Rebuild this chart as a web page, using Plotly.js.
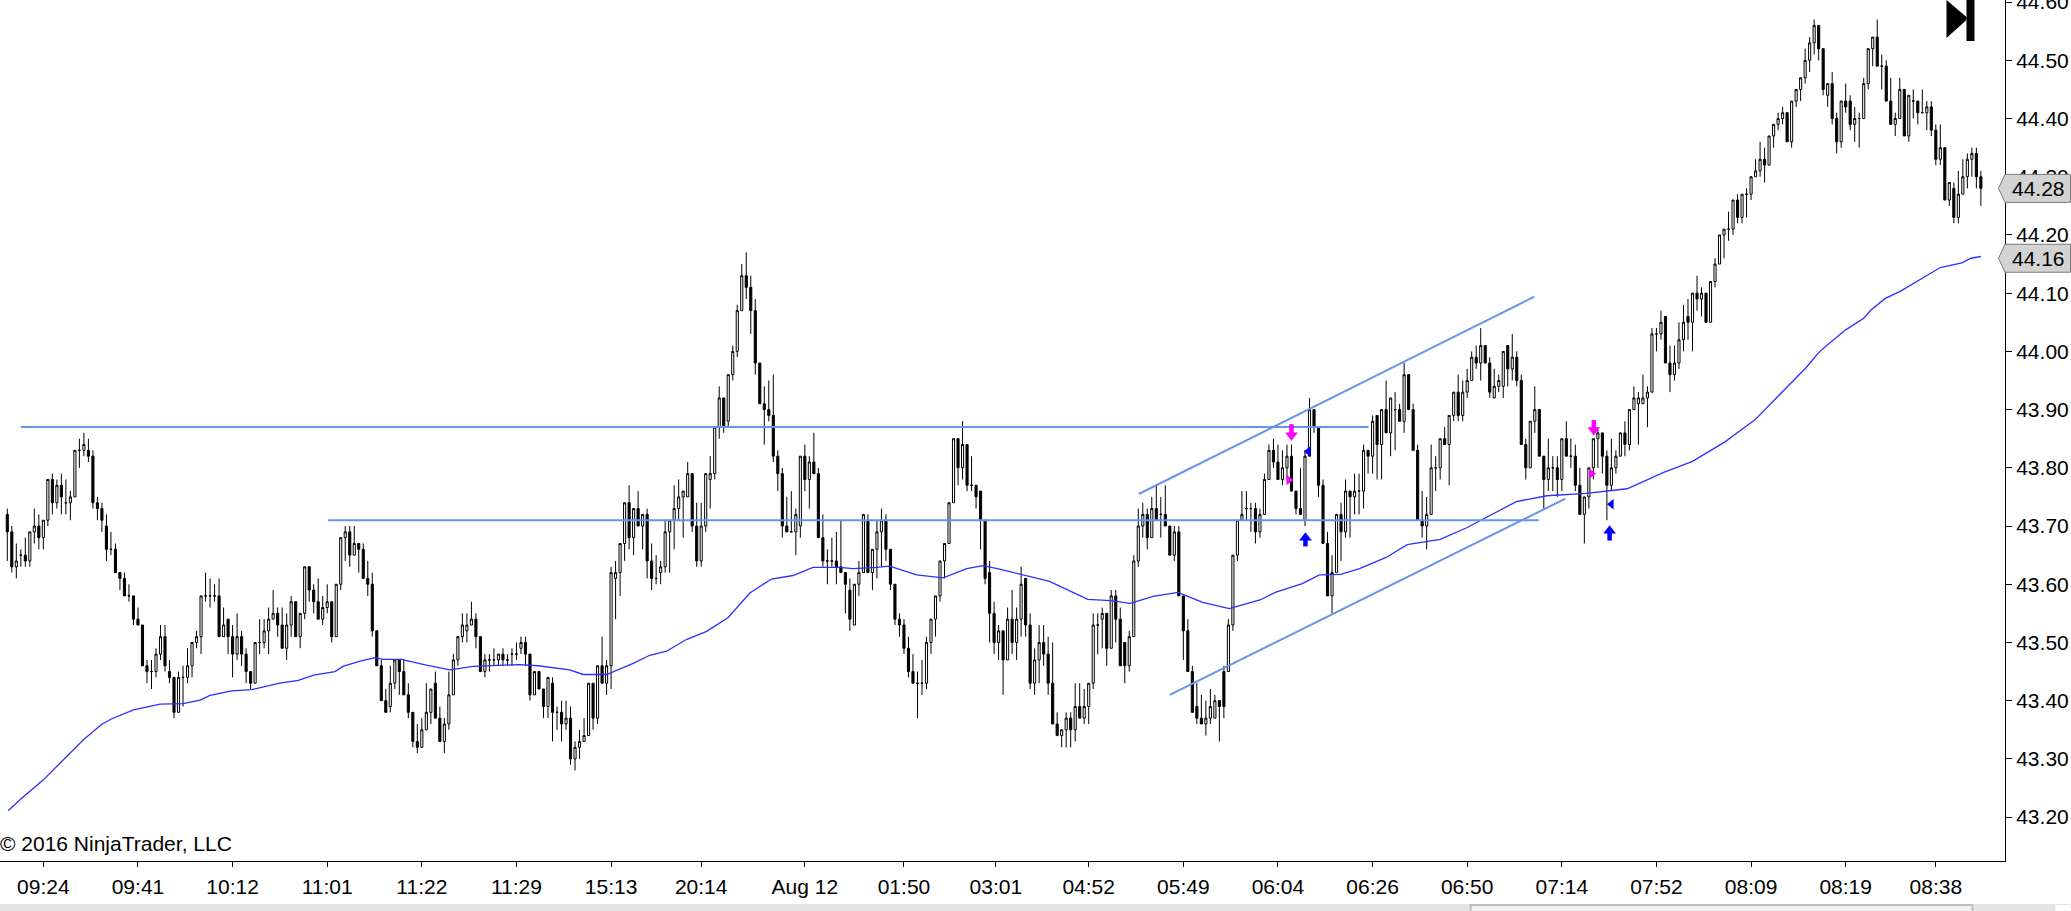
<!DOCTYPE html>
<html>
<head>
<meta charset="utf-8">
<script src="https://cdn.plot.ly/plotly-3.0.1.min.js"></script>
<style>html,body{margin:0;padding:0;background:#fff;overflow:hidden}#chart{width:2071px;height:911px}</style>
</head>
<body>
<div id="chart"></div>
<script>
const openPrices = [
43.72,43.69,43.63,43.65,43.65,43.64,43.69,43.70,43.68,43.71,
43.78,43.74,43.77,43.74,43.74,43.75,43.83,43.83,43.83,43.82,
43.74,43.73,43.70,43.66,43.66,43.62,43.61,43.58,43.58,43.54,
43.53,43.46,43.45,43.45,43.48,43.51,43.45,43.44,43.38,43.44,
43.44,43.46,43.50,43.51,43.58,43.58,43.58,43.58,43.51,43.54,
43.51,43.48,43.51,43.48,43.45,43.43,43.50,43.50,43.52,43.54,
43.55,43.53,43.49,43.53,43.57,43.51,43.55,43.63,43.59,43.57,
43.54,43.56,43.57,43.51,43.60,43.68,43.69,43.65,43.67,43.66,
43.61,43.60,43.52,43.46,43.40,43.39,43.43,43.47,43.45,43.41,
43.38,43.33,43.32,43.35,43.38,43.43,43.37,43.33,43.36,43.41,
43.47,43.51,43.52,43.53,43.54,43.51,43.45,43.47,43.47,43.47,
43.48,43.47,43.48,43.48,43.49,43.50,43.48,43.41,43.45,43.42,
43.39,43.43,43.38,43.38,43.36,43.37,43.30,43.32,43.33,43.34,
43.43,43.37,43.46,43.43,43.46,43.61,43.62,43.67,43.74,43.68,
43.73,43.70,43.72,43.64,43.61,43.62,43.63,43.69,43.71,43.73,
43.75,43.75,43.79,43.70,43.64,43.70,43.78,43.79,43.87,43.92,
43.88,43.96,44.00,44.07,44.13,44.11,44.07,43.98,43.91,43.90,
43.89,43.82,43.79,43.70,43.69,43.69,43.70,43.82,43.78,43.81,
43.79,43.68,43.64,43.64,43.64,43.63,43.62,43.59,43.53,43.60,
43.62,43.71,43.62,43.66,43.69,43.71,43.66,43.60,43.54,43.53,
43.49,43.45,43.43,43.43,43.43,43.50,43.54,43.58,43.64,43.67,
43.74,43.85,43.80,43.84,43.77,43.77,43.76,43.71,43.62,43.55,
43.50,43.52,43.47,43.54,43.50,43.54,43.61,43.53,43.43,43.47,
43.50,43.48,43.43,43.36,43.34,43.35,43.37,43.35,43.39,43.37,
43.39,43.43,43.53,43.54,43.55,43.49,43.58,43.54,43.50,43.46,
43.51,43.64,43.70,43.72,43.68,43.73,43.72,43.72,43.70,43.65,
43.69,43.58,43.52,43.45,43.39,43.37,43.36,43.37,43.37,43.40,
43.45,43.45,43.53,43.65,43.71,43.73,43.73,43.73,43.69,43.72,
43.78,43.83,43.81,43.78,43.80,43.82,43.76,43.73,43.71,43.82,
43.90,43.87,43.77,43.67,43.58,43.62,43.72,43.69,43.76,43.75,
43.76,43.76,43.83,43.82,43.89,43.84,43.90,43.86,43.90,43.90,
43.88,43.96,43.90,43.83,43.71,43.70,43.72,43.80,43.80,43.85,
43.84,43.89,43.93,43.89,43.93,43.95,43.99,43.98,44.01,43.98,
43.92,43.94,43.94,44.01,43.97,43.99,43.95,43.84,43.80,43.88,
43.90,43.82,43.78,43.80,43.80,43.78,43.85,43.82,43.82,43.77,
43.72,43.75,43.80,43.85,43.86,43.82,43.77,43.80,43.82,43.86,
43.84,43.90,43.91,43.91,43.92,43.93,44.03,44.03,44.06,43.98,
43.96,43.98,44.02,44.06,44.05,44.10,44.09,44.10,44.05,44.12,
44.15,44.20,44.21,44.21,44.26,44.23,44.27,44.27,44.30,44.31,
44.33,44.32,44.37,44.39,44.40,44.41,44.36,44.43,44.45,44.47,
44.50,44.53,44.56,44.52,44.44,44.46,44.40,44.36,44.43,44.43,
44.39,44.40,44.40,44.46,44.52,44.54,44.49,44.49,44.43,44.39,
44.40,44.45,44.37,44.43,44.43,44.41,44.41,44.42,44.38,44.33,
44.35,44.26,44.28,44.23,44.27,44.30,44.33,44.34,44.30];
const highPrices = [
43.73,43.70,43.67,43.66,43.68,43.69,43.73,43.72,43.71,43.78,
43.79,43.78,43.79,43.78,43.76,43.83,43.85,43.86,43.85,43.83,
43.75,43.74,43.72,43.69,43.67,43.62,43.62,43.60,43.58,43.56,
43.53,43.47,43.47,43.49,43.53,43.53,43.47,43.44,43.45,43.46,
43.49,43.50,43.52,43.58,43.62,43.61,43.60,43.61,43.56,43.54,
43.53,43.55,43.52,43.49,43.45,43.50,43.54,43.54,43.56,43.59,
43.56,43.56,43.55,43.58,43.57,43.55,43.63,43.63,43.60,43.61,
43.58,43.60,43.57,43.60,43.68,43.70,43.70,43.70,43.67,43.67,
43.64,43.62,43.52,43.47,43.42,43.46,43.47,43.47,43.47,43.43,
43.38,43.36,43.37,43.43,43.42,43.45,43.39,43.37,43.45,43.48,
43.51,43.55,43.55,43.57,43.55,43.51,43.48,43.48,43.49,43.48,
43.49,43.48,43.49,43.50,43.51,43.51,43.48,43.45,43.45,43.42,
43.44,43.44,43.39,43.40,43.40,43.39,43.33,43.35,43.37,43.43,
43.43,43.46,43.51,43.47,43.63,43.64,43.67,43.74,43.77,43.73,
43.76,43.72,43.73,43.67,43.65,43.64,43.71,43.71,43.77,43.78,
43.76,43.81,43.79,43.74,43.74,43.79,43.82,43.87,43.94,43.92,
43.96,44.01,44.08,44.15,44.17,44.13,44.09,43.98,43.94,43.95,
43.96,43.83,43.80,43.75,43.76,43.73,43.82,43.84,43.82,43.86,
43.80,43.72,43.66,43.68,43.69,43.71,43.62,43.61,43.60,43.64,
43.72,43.72,43.66,43.71,43.73,43.72,43.66,43.60,43.55,43.54,
43.51,43.48,43.45,43.47,43.51,43.54,43.58,43.64,43.67,43.74,
43.85,43.85,43.88,43.84,43.82,43.77,43.76,43.71,43.64,43.57,
43.53,43.52,43.56,43.59,43.56,43.63,43.61,43.55,43.49,43.53,
43.53,43.51,43.50,43.38,43.35,43.38,43.38,43.43,43.43,43.42,
43.43,43.55,43.55,43.56,43.55,43.59,43.59,43.56,43.50,43.52,
43.65,43.73,43.74,43.73,43.75,43.77,43.75,43.77,43.70,43.70,
43.70,43.58,43.54,43.46,43.43,43.41,43.40,43.42,43.41,43.40,
43.46,43.54,43.65,43.71,43.76,43.76,43.74,43.74,43.73,43.79,
43.84,43.85,43.84,43.83,43.84,43.84,43.76,43.80,43.83,43.92,
43.90,43.87,43.78,43.69,43.65,43.72,43.74,43.78,43.76,43.79,
43.79,43.84,43.83,43.89,43.89,43.90,43.95,43.92,43.93,43.91,
43.98,43.96,43.91,43.84,43.76,43.75,43.84,43.82,43.85,43.87,
43.89,43.93,43.96,43.95,43.97,44.00,44.01,44.04,44.01,43.99,
43.97,43.96,44.00,44.01,44.03,44.00,43.96,43.85,43.88,43.94,
43.90,43.82,43.85,43.82,43.82,43.85,43.88,43.85,43.84,43.80,
43.75,43.80,43.85,43.87,43.86,43.83,43.85,43.83,43.86,43.88,
43.90,43.94,43.93,43.96,43.94,44.04,44.04,44.07,44.06,44.01,
44.01,44.05,44.08,44.09,44.10,44.13,44.11,44.10,44.12,44.16,
44.20,44.21,44.24,44.26,44.27,44.27,44.28,44.30,44.33,44.36,
44.35,44.37,44.39,44.41,44.42,44.41,44.43,44.45,44.47,44.52,
44.54,44.57,44.56,44.52,44.46,44.48,44.41,44.43,44.46,44.44,
44.42,44.41,44.47,44.52,44.54,44.57,44.51,44.50,44.47,44.41,
44.47,44.45,44.44,44.45,44.43,44.45,44.43,44.43,44.39,44.39,
44.35,44.29,44.29,44.31,44.33,44.34,44.35,44.35,44.31];
const lowPrices = [
43.64,43.62,43.61,43.63,43.63,43.63,43.67,43.66,43.66,43.70,
43.72,43.73,43.72,43.72,43.71,43.75,43.80,43.82,43.81,43.73,
43.71,43.69,43.64,43.65,43.62,43.59,43.58,43.57,43.53,43.53,
43.46,43.43,43.42,43.44,43.47,43.45,43.43,43.37,43.38,43.39,
43.43,43.44,43.49,43.48,43.57,43.56,43.57,43.51,43.51,43.48,
43.44,43.47,43.46,43.43,43.42,43.43,43.48,43.49,43.48,43.54,
43.51,43.49,43.47,43.51,43.51,43.49,43.54,43.57,43.55,43.54,
43.53,43.55,43.50,43.51,43.59,43.64,43.63,43.65,43.62,43.61,
43.58,43.51,43.46,43.40,43.38,43.38,43.42,43.41,43.41,43.37,
43.32,43.31,43.32,43.35,43.36,43.37,43.33,43.31,43.35,43.41,
43.46,43.50,43.50,43.53,43.49,43.45,43.44,43.45,43.46,43.46,
43.46,43.46,43.46,43.47,43.48,43.46,43.40,43.41,43.42,43.37,
43.37,43.33,43.35,43.33,43.35,43.29,43.28,43.30,43.33,43.34,
43.35,43.36,43.43,43.41,43.42,43.54,43.58,43.64,43.66,43.65,
43.70,43.66,43.61,43.59,43.60,43.60,43.62,43.62,43.66,43.71,
43.68,43.75,43.69,43.63,43.63,43.69,43.73,43.78,43.85,43.86,
43.87,43.95,43.99,44.07,44.09,44.03,43.96,43.91,43.84,43.88,
43.81,43.76,43.68,43.69,43.69,43.65,43.68,43.76,43.73,43.79,
43.68,43.63,43.60,43.63,43.60,43.62,43.55,43.52,43.53,43.58,
43.62,43.62,43.59,43.61,43.63,43.64,43.59,43.53,43.51,43.48,
43.44,43.43,43.37,43.41,43.42,43.48,43.51,43.57,43.61,43.67,
43.74,43.77,43.78,43.76,43.76,43.73,43.66,43.60,43.50,43.48,
43.47,43.41,43.47,43.48,43.47,43.51,43.51,43.42,43.41,43.43,
43.46,43.41,43.36,43.34,43.32,43.32,43.32,43.33,43.37,43.36,
43.36,43.42,43.48,43.49,43.46,43.49,43.50,43.46,43.43,43.45,
43.51,43.63,43.68,43.66,43.68,43.71,43.68,43.70,43.65,43.64,
43.58,43.47,43.45,43.38,43.36,43.36,43.34,43.36,43.37,43.33,
43.37,43.45,43.52,43.64,43.71,43.71,43.69,43.67,43.68,43.72,
43.78,43.80,43.78,43.77,43.78,43.76,43.72,43.72,43.70,43.82,
43.86,43.75,43.67,43.58,43.55,43.62,43.64,43.68,43.68,43.72,
43.72,43.73,43.79,43.79,43.78,43.78,43.86,43.82,43.83,43.88,
43.86,43.90,43.83,43.71,43.68,43.66,43.72,43.76,43.78,43.84,
43.77,43.88,43.88,43.88,43.92,43.95,43.97,43.95,43.98,43.92,
43.92,43.93,43.92,43.94,43.95,43.94,43.84,43.78,43.80,43.86,
43.82,43.73,43.76,43.76,43.75,43.76,43.82,43.80,43.76,43.72,
43.67,43.73,43.78,43.80,43.79,43.71,43.76,43.79,43.82,43.82,
43.83,43.90,43.84,43.91,43.87,43.93,44.00,44.02,43.98,43.93,
43.95,43.97,44.00,44.02,44.00,44.07,44.06,44.05,44.05,44.11,
44.15,44.16,44.19,44.20,44.22,44.22,44.23,44.26,44.30,44.30,
44.29,44.32,44.35,44.38,44.39,44.36,44.35,44.42,44.43,44.46,
44.48,44.51,44.50,44.44,44.42,44.39,44.34,44.35,44.41,44.38,
44.36,44.35,44.40,44.45,44.49,44.49,44.45,44.43,44.39,44.37,
44.40,44.37,44.36,44.40,44.39,44.41,44.38,44.37,44.32,44.32,
44.26,44.25,44.22,44.22,44.27,44.28,44.30,44.28,44.25];
const closePrices = [
43.69,43.63,43.64,43.65,43.64,43.69,43.70,43.68,43.71,43.78,
43.74,43.77,43.75,43.74,43.75,43.83,43.83,43.84,43.82,43.74,
43.73,43.71,43.66,43.66,43.62,43.61,43.58,43.58,43.54,43.53,
43.46,43.45,43.45,43.48,43.51,43.46,43.44,43.38,43.44,43.44,
43.46,43.50,43.51,43.58,43.58,43.58,43.58,43.51,43.53,43.51,
43.48,43.51,43.48,43.45,43.43,43.50,43.50,43.52,43.54,43.55,
43.53,43.49,43.53,43.57,43.51,43.55,43.63,43.59,43.57,43.54,
43.56,43.57,43.51,43.60,43.68,43.69,43.65,43.67,43.66,43.61,
43.60,43.52,43.46,43.40,43.38,43.43,43.47,43.45,43.41,43.38,
43.33,43.32,43.35,43.38,43.42,43.37,43.33,43.36,43.41,43.47,
43.51,43.53,43.53,43.54,43.51,43.45,43.47,43.47,43.47,43.48,
43.47,43.47,43.48,43.48,43.50,43.48,43.41,43.45,43.42,43.39,
43.44,43.38,43.38,43.36,43.37,43.30,43.32,43.33,43.34,43.43,
43.37,43.46,43.43,43.46,43.62,43.62,43.67,43.74,43.68,43.73,
43.70,43.72,43.64,43.61,43.61,43.63,43.69,43.71,43.73,43.75,
43.76,43.79,43.70,43.64,43.70,43.79,43.79,43.87,43.92,43.87,
43.96,44.00,44.07,44.13,44.11,44.07,43.98,43.91,43.90,43.89,
43.82,43.79,43.70,43.69,43.69,43.72,43.82,43.78,43.81,43.79,
43.68,43.64,43.64,43.64,43.63,43.62,43.60,43.54,43.60,43.62,
43.72,43.62,43.66,43.69,43.71,43.66,43.60,43.54,43.53,43.49,
43.45,43.43,43.43,43.43,43.50,43.54,43.58,43.64,43.67,43.74,
43.85,43.80,43.84,43.77,43.77,43.75,43.71,43.61,43.55,43.50,
43.52,43.47,43.54,43.50,43.54,43.60,43.53,43.43,43.47,43.50,
43.48,43.43,43.36,43.34,43.35,43.37,43.35,43.39,43.37,43.39,
43.43,43.53,43.53,43.55,43.49,43.58,43.54,43.46,43.46,43.51,
43.64,43.70,43.72,43.68,43.73,43.71,43.72,43.70,43.65,43.69,
43.58,43.52,43.45,43.38,43.37,43.36,43.37,43.39,43.40,43.39,
43.39,43.53,43.65,43.71,43.72,43.73,43.73,43.69,43.72,43.78,
43.83,43.81,43.78,43.80,43.82,43.76,43.73,43.72,43.82,43.90,
43.87,43.77,43.67,43.58,43.62,43.72,43.69,43.76,43.75,43.76,
43.76,43.83,43.82,43.88,43.84,43.90,43.86,43.92,43.90,43.88,
43.96,43.90,43.83,43.71,43.70,43.72,43.80,43.80,43.85,43.84,
43.89,43.93,43.89,43.93,43.95,43.99,43.98,44.01,43.98,43.93,
43.94,43.95,44.00,43.97,43.99,43.95,43.84,43.80,43.88,43.90,
43.82,43.78,43.80,43.80,43.78,43.85,43.82,43.82,43.77,43.72,
43.75,43.80,43.85,43.86,43.82,43.77,43.80,43.82,43.86,43.84,
43.90,43.92,43.92,43.92,43.93,44.03,44.03,44.05,43.98,43.96,
43.98,44.02,44.05,44.05,44.10,44.09,44.10,44.05,44.12,44.15,
44.20,44.21,44.21,44.26,44.23,44.27,44.27,44.30,44.31,44.33,
44.32,44.37,44.39,44.40,44.41,44.36,44.43,44.45,44.47,44.50,
44.53,44.56,44.52,44.45,44.46,44.40,44.36,44.43,44.42,44.39,
44.40,44.40,44.46,44.52,44.54,44.49,44.49,44.43,44.39,44.40,
44.45,44.37,44.44,44.43,44.41,44.41,44.42,44.38,44.33,44.35,
44.26,44.29,44.23,44.27,44.30,44.33,44.34,44.30,44.28];

const maBars = [0.2,3,8,12.8,16.9,20.9,23.2,28,33.9,39,42.8,45,49.8,54.2,60.5,64.6,68,72.7,74.5,78.3,81.6,83.4,87.5,93,98.2,103.4,109.3,
113.7,117.8,124.8,127.8,133,138.9,142.6,146.3,150.7,155.2,160,164.8,169.6,174.4,178.8,184.7,187.7,192.9,195.8,201.8,207.7,212.9,216.6,220.2,
224.5,231.3,239.8,244.9,249.2,254.3,259.8,265.3,271.2,278,281.4,287.4,291.2,295.9,300.1,306,310.7,318,323.9,329.8,334.9,341.7,350.4,
359.5,367.6,374,381.3,383.7,387.8,392.6,395.8,399.1,401.9,403.9,408,412,413.6,416.8,420.1,422.5,425.7,429,433.8,435.8,438];
const maValues = [43.211,43.231,43.264,43.301,43.333,43.359,43.369,43.384,43.394,43.395,43.401,43.409,43.417,43.419,43.430,43.435,43.444,43.450,43.459,43.468,43.474,43.471,43.471,43.461,43.453,43.459,43.460,
43.462,43.460,43.453,43.445,43.445,43.464,43.478,43.485,43.505,43.519,43.543,43.585,43.609,43.615,43.629,43.629,43.627,43.629,43.631,43.616,43.611,43.627,43.632,43.626,
43.618,43.605,43.574,43.572,43.567,43.579,43.586,43.569,43.558,43.573,43.586,43.601,43.616,43.617,43.627,43.646,43.668,43.677,43.697,43.721,43.742,43.752,43.756,
43.764,43.792,43.811,43.845,43.859,43.882,43.920,43.945,43.971,43.997,44.011,44.037,44.057,44.071,44.091,44.103,44.114,44.128,44.144,44.152,44.160,44.163];

const levelHighBars = [3.04,302.1],  levelHighPrices = [43.87,43.87];
const levelLowBars = [71.2,339.9],   levelLowPrices = [43.71,43.71];
const upperTrendBars = [251.1,338.9], upperTrendPrices = [43.755,44.094];
const lowerTrendBars = [258,345.8],   lowerTrendPrices = [43.41,43.747];

const downArrowBars = [285,352.1], downArrowTails = [43.875,43.882], downArrowTips = [43.856,43.865];
const upArrowBars = [288.1,355.6], upArrowTails = [43.665,43.675], upArrowTips = [43.680,43.692];
const buyFlagBars = [284.4,351.6], buyFlagPrices = [43.779,43.79];
const sellFlagBars = [288.7,356], sellFlagPrices = [43.828,43.7375];

const tickBars = [8,29,50,71,92,113,134,154,177,199,219.4,240,261,282,303,324,345,366,387,408,428];
const tickLabels = ['09:24','09:41','10:12','11:01','11:22','11:29','15:13','20:14','Aug 12','01:50','03:01','04:52','05:49','06:04','06:26','06:50','07:14','07:52','08:09','08:19','08:38'];
const priceTicks = [43.2,43.3,43.4,43.5,43.6,43.7,43.8,43.9,44.0,44.1,44.2,44.3,44.4,44.5,44.6];
const lastPrices = [44.28,44.16];

const bars = openPrices.map((_,i)=>i);
const W = 2071, H = 911, R = 65.5, B = 50, PW = W-R, PH = H-B;
const FONT = '"Liberation Sans", Arial, sans-serif';
const LINE = '#6495ED', MA = '#2e2eff';
function arrow(xs, tails, tips, color, sym){
  const lx=[], ly=[];
  xs.forEach((x,i)=>{lx.push(x,x,null); ly.push(tails[i],tips[i],null);});
  return [
    {type:'scatter',mode:'lines',x:lx,y:ly,line:{color,width:4.5},hoverinfo:'skip',showlegend:false},
    {type:'scatter',mode:'markers',x:xs,y:tips,marker:{symbol:sym,color,size:11,line:{width:0}},hoverinfo:'skip',showlegend:false}
  ];
}
function seg(x,y,color,width){return {type:'scatter',mode:'lines',x,y,line:{color,width},hoverinfo:'skip',showlegend:false};}
const traces = [
  {type:'candlestick',x:bars,open:openPrices,high:highPrices,low:lowPrices,close:closePrices,
   whiskerwidth:0,
   increasing:{line:{color:'#000',width:1},fillcolor:'#fff'},
   decreasing:{line:{color:'#000',width:1},fillcolor:'#000'},
   hoverinfo:'skip',showlegend:false},
  seg(maBars,maValues,MA,1.3),
  seg(levelHighBars,levelHighPrices,LINE,2),
  seg(levelLowBars,levelLowPrices,LINE,2),
  seg(upperTrendBars,upperTrendPrices,LINE,2),
  seg(lowerTrendBars,lowerTrendPrices,LINE,2),
  ...arrow(downArrowBars,downArrowTails,downArrowTips,'#ff00ff','triangle-down'),
  ...arrow(upArrowBars,upArrowTails,upArrowTips,'#0000ff','triangle-up'),
  {type:'scatter',mode:'markers',x:buyFlagBars,y:buyFlagPrices,marker:{symbol:'triangle-right',color:'#ff00ff',size:9,line:{width:0}},hoverinfo:'skip',showlegend:false},
  {type:'scatter',mode:'markers',x:sellFlagBars,y:sellFlagPrices,marker:{symbol:'triangle-left',color:'#0000ff',size:9,line:{width:0}},hoverinfo:'skip',showlegend:false}
];
const px = x=>x/PW, py = y=>(PH-y)/PH;
const shapes = [
  {type:'rect',xref:'paper',yref:'paper',x0:px(0),x1:px(W),y0:py(904),y1:py(911),fillcolor:'#e4e4e4',line:{width:0}},
  {type:'rect',xref:'paper',yref:'paper',x0:px(1471),x1:px(1973),y0:py(905),y1:py(913),fillcolor:'#f0f0f0',line:{color:'#bfbfbf',width:2}},
  {type:'rect',xref:'paper',yref:'paper',x0:px(2056),x1:px(W),y0:py(905),y1:py(911),fillcolor:'#ffffff',line:{width:0}},
  {type:'path',xref:'paper',yref:'paper',path:`M ${px(1947)},${py(0)} L ${px(1967)},${py(17)} L ${px(1967)},${py(20)} L ${px(1947)},${py(38)} Z`,fillcolor:'#000',line:{width:0}},
  {type:'rect',xref:'paper',yref:'paper',x0:px(1967),x1:px(1975),y0:py(0),y1:py(41),fillcolor:'#000',line:{width:0}},
  ...lastPrices.map(p=>({type:'path',xref:'paper',yref:'y',xsizemode:'pixel',xanchor:1,ysizemode:'pixel',yanchor:p,
    path:'M -6.5,0 L 0,14 L 65.5,14 L 65.5,-14 L 0,-14 Z',fillcolor:'#d3d3d3',line:{color:'#7a7a7a',width:1}}))
];
const annotations = [
  ...lastPrices.map(p=>({xref:'paper',yref:'y',x:1,y:p,xanchor:'left',yanchor:'middle',xshift:6,yshift:0,showarrow:false,
    text:p.toFixed(2),font:{family:FONT,size:21,color:'#000'},borderpad:0})),
  {xref:'paper',yref:'paper',x:0,y:py(843),xanchor:'left',yanchor:'middle',showarrow:false,text:'© 2016 NinjaTrader, LLC',font:{family:FONT,size:21,color:'#000'},borderpad:0,xshift:-1}
];
const layout = {
  width:W,height:H,margin:{l:0,r:R,t:0,b:B,pad:0},
  paper_bgcolor:'#fff',plot_bgcolor:'#fff',showlegend:false,boxgap:0.33,
  font:{family:FONT,size:21,color:'#000'},
  xaxis:{type:'linear',range:[(0-7.3)/4.507,(PW-7.3)/4.507],rangeslider:{visible:false},
    tickmode:'array',tickvals:tickBars,ticktext:tickLabels,ticks:'outside',ticklen:5,tickwidth:1,tickcolor:'#000',
    showgrid:false,zeroline:false,showline:true,linecolor:'#000',linewidth:1,mirror:false,tickangle:0,ticklabelstandoff:2,
    tickfont:{family:FONT,size:21,color:'#000'}},
  yaxis:{type:'linear',side:'right',range:[43.1246,44.6036],tickmode:'array',tickvals:priceTicks,
    ticktext:priceTicks.map(v=>v.toFixed(2)),ticks:'outside',ticklen:6,tickwidth:1,tickcolor:'#000',
    showgrid:false,zeroline:false,showline:true,linecolor:'#000',linewidth:1,ticklabeloverflow:'allow',
    tickfont:{family:FONT,size:21,color:'#000'}},
  shapes,annotations
};
Plotly.newPlot('chart',traces,layout,{displayModeBar:false,staticPlot:true});
</script>
</body>
</html>
